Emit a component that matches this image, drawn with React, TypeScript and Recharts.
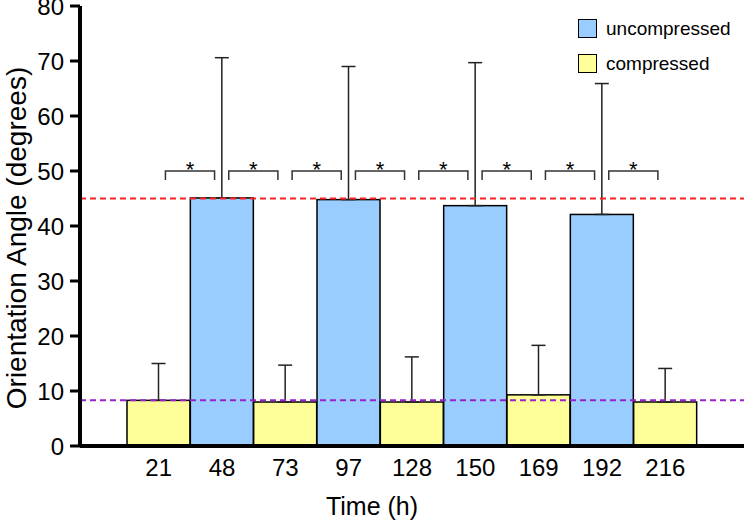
import React from 'react';
import { BarChart, Bar, XAxis, YAxis, ErrorBar, ReferenceLine } from 'recharts';

const times = ['21', '48', '73', '97', '128', '150', '169', '192', '216'];
const groups = ['compressed', 'uncompressed', 'compressed', 'uncompressed', 'compressed', 'uncompressed', 'compressed', 'uncompressed', 'compressed'];
const means = [8.3, 45.1, 8.0, 44.8, 8.0, 43.7, 9.3, 42.1, 8.0];
const errors = [6.7, 25.5, 6.7, 24.2, 8.2, 26.0, 9.0, 23.8, 6.1];
// marks between neighbouring bars (i, i+1)
const significance = ['*', '*', '*', '*', '*', '*', '*', '*'];
const yTicks = [0, 10, 20, 30, 40, 50, 60, 70, 80];
const legendItems = ['uncompressed', 'compressed'];
const bracketLevel = 50;
const uncompressedLevel = 45;
const compressedLevel = 8.3;

const colors: Record<string, string> = { uncompressed: '#99ccff', compressed: '#ffff99' };
const font = "Arial, 'Liberation Sans', Helvetica, sans-serif";

const data = times.map((t, i) => ({
  time: t,
  group: groups[i],
  value: means[i],
  err: [0, errors[i]],
}));

const BarShape = (props: any) => {
  const { x, y, width, height, index, payload } = props;
  const base = y + height;
  const k = height / payload.value; // px per degree
  const sig = significance[index];
  let bracket = null;
  if (sig) {
    const cx = x + width;
    const half = width * 0.39;
    const top = base - bracketLevel * k;
    bracket = (
      <g>
        <path
          d={`M${cx - half},${top + 9}V${top}H${cx + half}V${top + 9}`}
          fill="none"
          stroke="#333"
          strokeWidth={1.5}
        />
        <text x={cx} y={top + 6} textAnchor="middle" fontSize={22} fontFamily={font} fill="#000">
          {sig}
        </text>
      </g>
    );
  }
  return (
    <g>
      <rect x={x} y={y} width={width} height={height} fill={colors[payload.group]} stroke="#000" strokeWidth={1.5} />
      {bracket}
    </g>
  );
};

const YTitle = (props: any) => {
  const { viewBox } = props;
  const cx = viewBox.x + 16;
  const cy = viewBox.y + viewBox.height / 2 + 12;
  return (
    <text
      x={cx}
      y={cy}
      transform={`rotate(-90 ${cx} ${cy})`}
      textAnchor="middle"
      dominantBaseline="central"
      fontSize={28}
      fontFamily={font}
      fill="#000"
    >
      Orientation Angle (degrees)
    </text>
  );
};

const XTitle = (props: any) => {
  const { viewBox } = props;
  const cx = viewBox.x + viewBox.width / 2 - 40;
  const cy = viewBox.y + 60;
  return (
    <text x={cx} y={cy} textAnchor="middle" dominantBaseline="central" fontSize={25} fontFamily={font} fill="#000">
      Time (h)
    </text>
  );
};

export default function App() {
  return (
    <div style={{ position: 'absolute', left: 0, top: 0, width: 747, height: 525, background: '#fff' }}>
      <BarChart
        width={747}
        height={525}
        data={data}
        margin={{ top: 6, right: 3, bottom: 0, left: 0 }}
        barCategoryGap={0}
      >
        <XAxis
          dataKey="time"
          height={79}
          padding={{ left: 47, right: 47 }}
          interval={0}
          axisLine={{ stroke: '#000', strokeWidth: 4 }}
          tickLine={false}
          tickMargin={7}
          tick={{ fontSize: 24, fill: '#000', fontFamily: font }}
          label={<XTitle />}
        />
        <XAxis
          xAxisId="top"
          orientation="top"
          dataKey="time"
          height={0}
          tick={false}
          tickLine={false}
          axisLine={{ stroke: '#000', strokeWidth: 4 }}
        />
        <YAxis
          domain={[0, 80]}
          ticks={yTicks}
          interval={0}
          width={80}
          tickSize={10}
          tickMargin={6}
          axisLine={{ stroke: '#000', strokeWidth: 4 }}
          tickLine={{ stroke: '#000', strokeWidth: 3 }}
          tick={{ fontSize: 24, fill: '#000', fontFamily: font }}
          label={<YTitle />}
        />
        <YAxis
          yAxisId="right"
          orientation="right"
          domain={[0, 80]}
          width={0}
          tick={false}
          tickLine={false}
          axisLine={{ stroke: '#000', strokeWidth: 4 }}
        />
        <Bar dataKey="value" shape={<BarShape />} isAnimationActive={false}>
          <ErrorBar dataKey="err" direction="y" width={7} stroke="#222" strokeWidth={1.5} />
        </Bar>
        <ReferenceLine y={uncompressedLevel} stroke="#ff2222" strokeDasharray="6 4" strokeWidth={2} />
        <ReferenceLine y={compressedLevel} stroke="#9922cc" strokeDasharray="6 4" strokeWidth={2} />
      </BarChart>
      <div style={{ position: 'absolute', left: 578, top: 19, fontFamily: font, fontSize: 19, color: '#000' }}>
        {legendItems.map((g) => (
          <div key={g} style={{ display: 'flex', alignItems: 'center', height: 19, marginBottom: 16 }}>
            <span
              style={{
                display: 'inline-block',
                width: 17,
                height: 17,
                background: colors[g],
                border: '1px solid #000',
                marginRight: 9,
              }}
            />
            <span>{g}</span>
          </div>
        ))}
      </div>
    </div>
  );
}
